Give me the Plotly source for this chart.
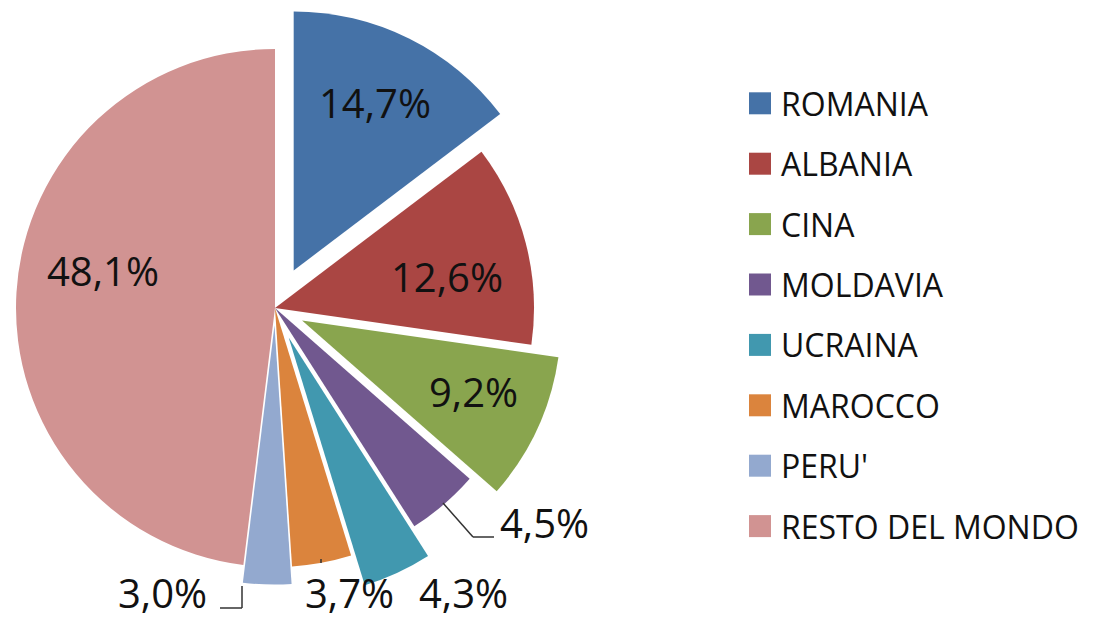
import numpy as np
import plotly.graph_objects as go

# ---------------- data ----------------
categories = ["ROMANIA", "ALBANIA", "CINA", "MOLDAVIA", "UCRAINA", "MAROCCO", "PERU'", "RESTO DEL MONDO"]
values = [14.7, 12.6, 9.2, 4.5, 4.3, 3.7, 3.0, 48.1]
pulls = [0.162, 0.0, 0.115, 0.0, 0.126, 0.0, 0.068, 0.0]   # explosion, fraction of radius
colors = ["#4572A7", "#AA4643", "#89A54E", "#71588F", "#4198AF", "#DB843D", "#93A9CF", "#D19392"]

# ---------------- layout constants ----------------
PAGE_OFF = 8                       # browser body margin
W, H = 1098 - PAGE_OFF, 619 - PAGE_OFF
CX, CY, R = 275.0, 308.0, 259.0    # pie centre / radius in page px
FONT = "Open Sans"
TXT = "#111111"

# label placement (page px, text centres)
label_pos = [(375, 102), (447, 276), (473, 391), (544, 522),
             (463, 592), (349, 592), (162, 592), (103, 270)]

n = len(values)
total = float(sum(values))
starts = np.concatenate([[0.0], np.cumsum(values)[:-1]])
mids = (starts + np.array(values) / 2.0) / total * 2 * np.pi


def px(x, y):
    return (x - PAGE_OFF) / W, 1 - (y - PAGE_OFF) / H


def domain_for(cx, cy, r):
    x0, y1 = px(cx - r, cy - r)
    x1, y0 = px(cx + r, cy + r)
    return dict(x=[x0, x1], y=[y0, y1])


def fmt(v):
    return f"{v:.1f}".replace(".", ",") + "%"


fig = go.Figure()

# base pie (non-exploded slices) + one trace per exploded slice
groups = [[i for i, p in enumerate(pulls) if p == 0]] + [[i] for i, p in enumerate(pulls) if p > 0]
for g in groups:
    if len(g) == 1 and pulls[g[0]] > 0:
        a = mids[g[0]]
        d = pulls[g[0]] * R
        dx, dy = d * np.sin(a), -d * np.cos(a)
    else:
        dx = dy = 0.0
    fig.add_trace(go.Pie(
        labels=categories, values=values, sort=False, direction="clockwise", rotation=0,
        marker=dict(colors=[colors[i] if i in g else "rgba(0,0,0,0)" for i in range(n)],
                    line=dict(width=0)),
        textinfo="none", hoverinfo="label+percent", showlegend=False,
        domain=domain_for(CX + dx, CY + dy, R),
    ))

annotations = []
shapes = []

# percentage labels
for v, (lx, ly) in zip(values, label_pos):
    x, y = px(lx, ly)
    annotations.append(dict(x=x, y=y, xref="paper", yref="paper", text=fmt(v), showarrow=False,
                            xanchor="center", yanchor="middle",
                            font=dict(family=FONT, size=40, color=TXT)))

# leader lines
leaders = [
    [(443, 503), (473, 537), (494, 537)],
    [(242, 586), (242, 608), (220, 608)],
    [(321, 559), (321, 563)],
]
for pts in leaders:
    for (x0, y0), (x1, y1) in zip(pts[:-1], pts[1:]):
        a0, b0 = px(x0, y0)
        a1, b1 = px(x1, y1)
        shapes.append(dict(type="line", xref="paper", yref="paper", x0=a0, y0=b0, x1=a1, y1=b1,
                           line=dict(color="#333333", width=1.5)))

# legend
LX0, LSZ, LTX, LY0, LDY = 749, 22, 779, 103.3, 60.4
for i, (c, name) in enumerate(zip(colors, categories)):
    yc = LY0 + LDY * i
    a0, b0 = px(LX0, yc + LSZ / 2)
    a1, b1 = px(LX0 + LSZ, yc - LSZ / 2)
    shapes.append(dict(type="rect", xref="paper", yref="paper", x0=a0, y0=b0, x1=a1, y1=b1,
                       fillcolor=c, line=dict(width=0)))
    x, y = px(LTX, yc)
    annotations.append(dict(x=x, y=y, xref="paper", yref="paper", text=name, showarrow=False,
                            xanchor="left", yanchor="middle",
                            font=dict(family=FONT, size=32, color=TXT)))

fig.update_layout(
    width=W, height=H, margin=dict(l=0, r=0, t=0, b=0),
    paper_bgcolor="white", plot_bgcolor="white",
    annotations=annotations, shapes=shapes, showlegend=False,
)

fig.write_html("out.html")
